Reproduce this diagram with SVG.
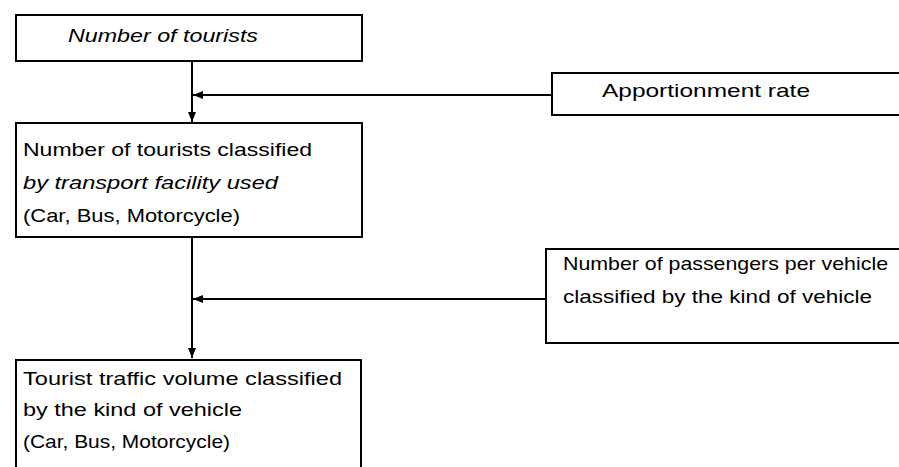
<svg xmlns="http://www.w3.org/2000/svg" width="899" height="467" viewBox="0 0 899 467">
  <defs>
    <marker id="arrow" viewBox="0 0 10 8" refX="10" refY="4" markerWidth="10" markerHeight="8" markerUnits="userSpaceOnUse" orient="auto">
      <path d="M0,0 L10,4 L0,8 Z" fill="#000"/>
    </marker>
  </defs>
  <style>
    .box { fill: #fff; stroke: #000; stroke-width: 2; }
    .lbl { font-family: "Liberation Sans", Arial, sans-serif; font-size: 19px; fill: #000; }
    .it { font-style: italic; }
    .wire { fill: none; stroke: #000; stroke-width: 2; }
  </style>
  <rect width="899" height="467" fill="#fff"/>

  <g id="connectors">
    <line class="wire" x1="192" y1="61" x2="192" y2="122" marker-end="url(#arrow)"/>
    <line class="wire" x1="552" y1="95" x2="193" y2="95" marker-end="url(#arrow)"/>
    <line class="wire" x1="192" y1="237" x2="192" y2="358" marker-end="url(#arrow)"/>
    <line class="wire" x1="546" y1="299" x2="193" y2="299" marker-end="url(#arrow)"/>
  </g>

  <g id="tourists">
    <rect class="box" x="16" y="15" width="346" height="46"/>
    <text class="lbl it" x="68" y="42" textLength="190" lengthAdjust="spacingAndGlyphs">Number of tourists</text>
  </g>

  <g id="apportionment">
    <rect class="box" x="552" y="73" width="360" height="42"/>
    <text class="lbl" x="602" y="97" textLength="208" lengthAdjust="spacingAndGlyphs">Apportionment rate</text>
  </g>

  <g id="by-facility">
    <rect class="box" x="16" y="123" width="346" height="114"/>
    <text class="lbl" x="23" y="156" textLength="289" lengthAdjust="spacingAndGlyphs">Number of tourists classified</text>
    <text class="lbl it" x="23" y="189" textLength="255" lengthAdjust="spacingAndGlyphs">by transport facility used</text>
    <text class="lbl" x="23" y="222" textLength="217" lengthAdjust="spacingAndGlyphs">(Car, Bus, Motorcycle)</text>
  </g>

  <g id="passengers">
    <rect class="box" x="546" y="249" width="366" height="94"/>
    <text class="lbl" x="563" y="270" textLength="325" lengthAdjust="spacingAndGlyphs">Number of passengers per vehicle</text>
    <text class="lbl" x="563" y="303" textLength="309" lengthAdjust="spacingAndGlyphs">classified by the kind of vehicle</text>
  </g>

  <g id="traffic-volume">
    <rect class="box" x="16" y="360" width="345" height="120"/>
    <text class="lbl" x="23" y="385" textLength="319" lengthAdjust="spacingAndGlyphs">Tourist traffic volume classified</text>
    <text class="lbl" x="23" y="416" textLength="219" lengthAdjust="spacingAndGlyphs">by the kind of vehicle</text>
    <text class="lbl" x="23" y="448" textLength="207" lengthAdjust="spacingAndGlyphs">(Car, Bus, Motorcycle)</text>
  </g>
</svg>
